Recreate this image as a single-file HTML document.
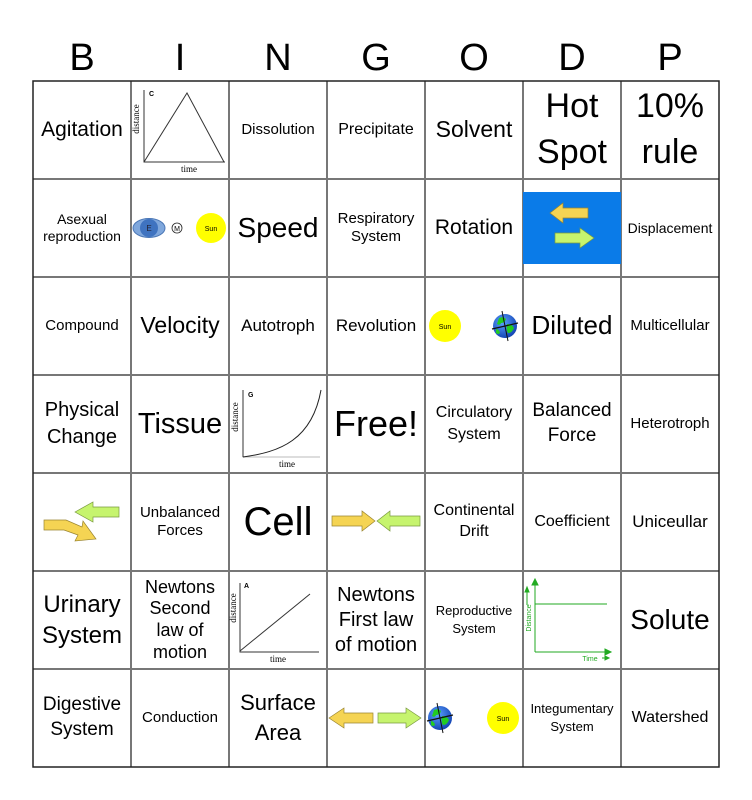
<!DOCTYPE html>
<html><head><meta charset="utf-8"><style>
body{margin:0;width:752px;height:800px;background:#fff;font-family:"Liberation Sans",sans-serif;position:relative;overflow:hidden}
.h{position:absolute;top:36px;width:98px;text-align:center;font-size:38px;line-height:44px}
.c{position:absolute;width:98px;height:98px;display:flex;align-items:center;justify-content:center;text-align:center;line-height:1.2}
svg{position:absolute;left:0;top:0}
</style></head><body>
<div class="h" style="left:33px">B</div><div class="h" style="left:131px">I</div><div class="h" style="left:229px">N</div><div class="h" style="left:327px">G</div><div class="h" style="left:425px">O</div><div class="h" style="left:523px">D</div><div class="h" style="left:621px">P</div>

<div class="c" style="left:33px;top:81px;font-size:21px">Agitation</div>
<div class="c" style="left:229px;top:81px;font-size:15px">Dissolution</div>
<div class="c" style="left:327px;top:81px;font-size:16px">Precipitate</div>
<div class="c" style="left:425px;top:81px;font-size:23px">Solvent</div>
<div class="c" style="left:523px;top:81px;font-size:34px;line-height:1.35">Hot<br>Spot</div>
<div class="c" style="left:621px;top:81px;font-size:34px;line-height:1.35">10%<br>rule</div>

<div class="c" style="left:33px;top:179px;font-size:14px">Asexual<br>reproduction</div>
<div class="c" style="left:229px;top:179px;font-size:28px">Speed</div>
<div class="c" style="left:327px;top:179px;font-size:15px">Respiratory<br>System</div>
<div class="c" style="left:425px;top:179px;font-size:21px">Rotation</div>
<div class="c" style="left:621px;top:179px;font-size:14px">Displacement</div>

<div class="c" style="left:33px;top:277px;font-size:15px">Compound</div>
<div class="c" style="left:131px;top:277px;font-size:23px">Velocity</div>
<div class="c" style="left:229px;top:277px;font-size:17px">Autotroph</div>
<div class="c" style="left:327px;top:277px;font-size:17px">Revolution</div>
<div class="c" style="left:523px;top:277px;font-size:26px">Diluted</div>
<div class="c" style="left:621px;top:277px;font-size:15px">Multicellular</div>

<div class="c" style="left:33px;top:375px;font-size:20px;line-height:1.35">Physical<br>Change</div>
<div class="c" style="left:131px;top:375px;font-size:29px">Tissue</div>
<div class="c" style="left:327px;top:375px;font-size:36px">Free!</div>
<div class="c" style="left:425px;top:375px;font-size:16px;line-height:1.4">Circulatory<br>System</div>
<div class="c" style="left:523px;top:375px;font-size:19px;line-height:1.3">Balanced<br>Force</div>
<div class="c" style="left:621px;top:375px;font-size:15px">Heterotroph</div>

<div class="c" style="left:131px;top:473px;font-size:15px">Unbalanced<br>Forces</div>
<div class="c" style="left:229px;top:473px;font-size:40px">Cell</div>
<div class="c" style="left:425px;top:473px;font-size:16px;line-height:1.3">Continental<br>Drift</div>
<div class="c" style="left:523px;top:473px;font-size:16px">Coefficient</div>
<div class="c" style="left:621px;top:473px;font-size:17px">Uniceullar</div>

<div class="c" style="left:33px;top:571px;font-size:24px;line-height:1.3">Urinary<br>System</div>
<div class="c" style="left:131px;top:571px;font-size:18px;line-height:1.2">Newtons<br>Second<br>law of<br>motion</div>
<div class="c" style="left:327px;top:571px;font-size:20px;line-height:1.25">Newtons<br>First law<br>of motion</div>
<div class="c" style="left:425px;top:571px;font-size:13px;line-height:1.35">Reproductive<br>System</div>
<div class="c" style="left:621px;top:571px;font-size:28px">Solute</div>

<div class="c" style="left:33px;top:669px;font-size:19px;line-height:1.3">Digestive<br>System</div>
<div class="c" style="left:131px;top:669px;font-size:15px">Conduction</div>
<div class="c" style="left:229px;top:669px;font-size:22px;line-height:1.35">Surface<br>Area</div>
<div class="c" style="left:523px;top:669px;font-size:13px;line-height:1.35">Integumentary<br>System</div>
<div class="c" style="left:621px;top:669px;font-size:16px">Watershed</div>

<svg width="752" height="800" viewBox="0 0 752 800">
<defs>
<radialGradient id="eg" cx="0.4" cy="0.35" r="0.7"><stop offset="0" stop-color="#5aa0ff"/><stop offset="1" stop-color="#1040b0"/></radialGradient>
<g id="earth">
<circle r="12" fill="url(#eg)"/>
<path d="M-6,-8 q4,-2 7,1 q-1,4 -5,4 q-1,3 -4,1z M2,-2 q5,0 7,4 q-2,5 -6,5 q-2,-3 -1,-9z M-9,3 q3,0 4,4 q-2,2 -4,0z" fill="#2c2"/>
<line x1="-13" y1="3" x2="13" y2="-3" stroke="#111" stroke-width="1.2"/>
<line x1="-3" y1="-15" x2="3" y2="15" stroke="#111" stroke-width="1"/>
</g>
</defs>
<g stroke="#777" stroke-width="2">
<line x1="131" y1="81" x2="131" y2="767"/><line x1="229" y1="81" x2="229" y2="767"/><line x1="327" y1="81" x2="327" y2="767"/><line x1="425" y1="81" x2="425" y2="767"/><line x1="523" y1="81" x2="523" y2="767"/><line x1="621" y1="81" x2="621" y2="767"/>
<line x1="33" y1="179" x2="719" y2="179"/><line x1="33" y1="277" x2="719" y2="277"/><line x1="33" y1="375" x2="719" y2="375"/><line x1="33" y1="473" x2="719" y2="473"/><line x1="33" y1="571" x2="719" y2="571"/><line x1="33" y1="669" x2="719" y2="669"/>
</g>
<rect x="33" y="81" width="686" height="686" fill="none" stroke="#222" stroke-width="1.5"/>

<!-- C graph -->
<g font-family="Liberation Serif,serif" font-size="9">
<polyline points="144,90 144,162 225,162" fill="none" stroke="#333" stroke-width="1"/>
<polyline points="144,162 187,93 224,162" fill="none" stroke="#333" stroke-width="1"/>
<text x="149" y="96" font-family="Liberation Sans" font-weight="bold" font-size="7">C</text>
<text x="189" y="172" text-anchor="middle">time</text>
<text transform="translate(139,119) rotate(-90)" text-anchor="middle">distance</text>
</g>
<!-- E M Sun -->
<ellipse cx="149" cy="228" rx="16" ry="9.5" fill="#7fa7dc" stroke="#4a76b5"/>
<ellipse cx="149" cy="228" rx="9" ry="9" fill="#3f73c0"/>
<text x="149" y="231" font-size="8" text-anchor="middle" fill="#223">E</text>
<circle cx="177" cy="228" r="5" fill="#fff" stroke="#222" stroke-width="0.8"/>
<text x="177" y="231" font-size="7" text-anchor="middle">M</text>
<circle cx="211" cy="228" r="15" fill="#ffff00"/>
<text x="211" y="231" font-size="7" text-anchor="middle">Sun</text>
<!-- blue arrows -->
<rect x="523" y="192" width="98" height="72" fill="#0a7be8"/>
<polygon points="550,213 563,203 563,208 588,208 588,218 563,218 563,223" fill="#f5d453" stroke="#9a8530" stroke-width="0.7"/>
<polygon points="555,233 580,233 580,228 594,238 580,248 580,243 555,243" fill="#c6f46e" stroke="#7a9a40" stroke-width="0.7"/>
<!-- sun earth row 2 -->
<circle cx="445" cy="326" r="16" fill="#ffff00"/>
<text x="445" y="329" font-size="7" text-anchor="middle">Sun</text>
<use href="#earth" x="505" y="326"/>
<!-- G graph -->
<g font-family="Liberation Serif,serif" font-size="9">
<polyline points="243,390 243,457 320,457" fill="none" stroke="#bbb" stroke-width="1"/>
<line x1="243" y1="390" x2="243" y2="457" stroke="#333"/>
<path d="M243,457 C280,452 312,440 321,390" fill="none" stroke="#222" stroke-width="1"/>
<text x="248" y="397" font-family="Liberation Sans" font-weight="bold" font-size="7">G</text>
<text x="287" y="467" text-anchor="middle">time</text>
<text transform="translate(238,417) rotate(-90)" text-anchor="middle">distance</text>
</g>
<!-- row 4 arrows -->
<polygon points="75,512 93,502 93,507 119,507 119,517 93,517 93,522" fill="#c6f46e" stroke="#7a9a40" stroke-width="0.7"/>
<polygon points="44,520 66,520 82,527 83,521 96,539 75,541 78,535 64,530 44,530" fill="#f5d453" stroke="#9a8530" stroke-width="0.7"/>
<polygon points="332,516 362,516 362,511 375,521 362,531 362,526 332,526" fill="#f5d453" stroke="#9a8530" stroke-width="0.7"/>
<polygon points="377,521 390,511 390,516 420,516 420,526 390,526 390,531" fill="#c6f46e" stroke="#7a9a40" stroke-width="0.7"/>
<!-- A graph -->
<g font-family="Liberation Serif,serif" font-size="9">
<polyline points="240,583 240,652 319,652" fill="none" stroke="#333" stroke-width="1"/>
<line x1="240" y1="651" x2="310" y2="594" stroke="#333"/>
<text x="244" y="588" font-family="Liberation Sans" font-weight="bold" font-size="7">A</text>
<text x="278" y="662" text-anchor="middle">time</text>
<text transform="translate(236,608) rotate(-90)" text-anchor="middle">distance</text>
</g>
<!-- green graph -->
<g stroke="#22aa22" fill="#22aa22" stroke-width="1">
<line x1="535" y1="652" x2="608" y2="652"/><polygon points="611,652 605,649 605,655"/>
<line x1="535" y1="652" x2="535" y2="582"/><polygon points="535,579 532,585 538,585"/>
<line x1="535" y1="604" x2="607" y2="604"/>
<line x1="527" y1="605" x2="527" y2="590"/><polygon points="527,587 525,592 529,592"/>
<line x1="602" y1="658" x2="607" y2="658"/><polygon points="609,658 605,656 605,660"/>
</g>
<text x="590" y="661" font-size="7" fill="#22aa22" text-anchor="middle">Time</text>
<text transform="translate(531,618) rotate(-90)" font-size="7" fill="#22aa22" text-anchor="middle">Distance</text>
<!-- row 6 arrows -->
<polygon points="329,718 344,708 344,713 373,713 373,723 344,723 344,728" fill="#f5d453" stroke="#9a8530" stroke-width="0.7"/>
<polygon points="378,713 406,713 406,708 421,718 406,728 406,723 378,723" fill="#c6f46e" stroke="#7a9a40" stroke-width="0.7"/>
<use href="#earth" x="440" y="718"/>
<circle cx="503" cy="718" r="16" fill="#ffff00"/>
<text x="503" y="721" font-size="7" text-anchor="middle">Sun</text>
</svg>
</body></html>
